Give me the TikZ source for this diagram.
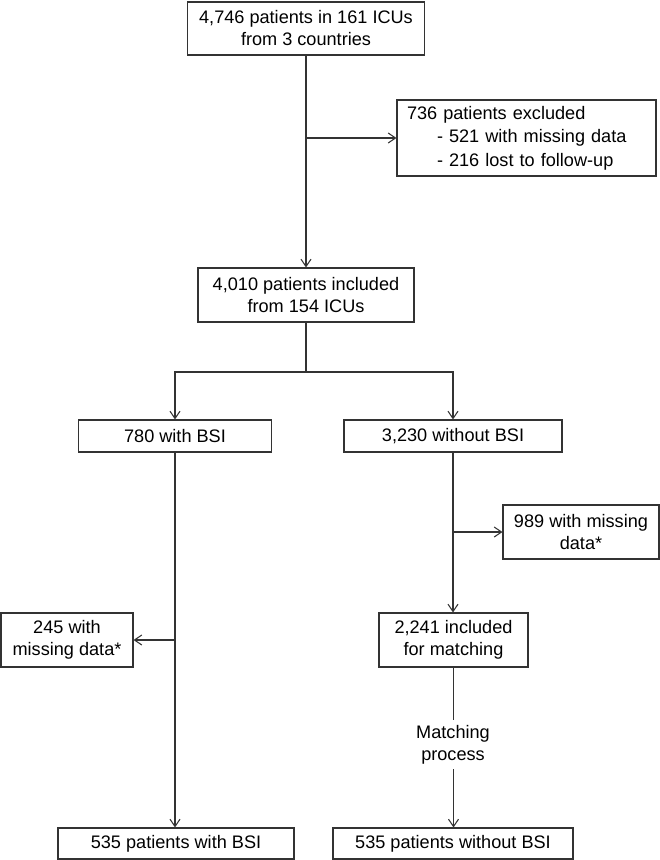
\documentclass[tikz,border=0pt]{standalone}
\usepackage{fontspec}
\setmainfont{Liberation Sans}
\usetikzlibrary{arrows.meta}
\definecolor{lncol}{RGB}{51,51,51}
\begin{document}
\begin{tikzpicture}[x=0.75pt,y=-0.75pt,
  box/.style={draw=lncol, line width=0.8pt, inner sep=0pt, align=center,
    font=\fontsize{13.6pt}{16.5pt}\selectfont, text=black},
  arr/.style={draw=lncol, line width=0.8pt, -{Straight Barb[length=5.5pt,width=7.5pt]}},
  plain/.style={draw=lncol, line width=0.8pt},
  lbl/.style={fill=white, align=center, inner xsep=2pt, inner ysep=4pt,
    font=\fontsize{13.6pt}{16.5pt}\selectfont, text=black}]
\useasboundingbox (0,0) rectangle (660,860);

\node[box, minimum width=177.75pt, minimum height=39.75pt] (top) at (306,28.5)
  {4,746 patients in 161 ICUs\\from 3 countries};
\node[box, align=left, text width=179.25pt, minimum width=194.25pt, minimum height=57pt,
  font=\fontsize{13.6pt}{17.5pt}\selectfont] (excl) at (526.5,138)
  {736 patients excluded\\\hspace*{22.5pt}- 521 with missing data\\\hspace*{22.5pt}- 216 lost to follow-up};
\node[box, minimum width=162pt, minimum height=40.5pt] (inc) at (306,295)
  {4,010 patients included\\from 154 ICUs};
\node[box, minimum width=144.75pt, minimum height=24pt] (bsi) at (175,436) {780 with BSI};
\node[box, minimum width=163.5pt, minimum height=24pt] (nobsi) at (453,436) {3,230 without BSI};
\node[box, minimum width=117pt, minimum height=40.5pt] (m989) at (581,532) {989 with missing\\data*};
\node[box, minimum width=111.75pt, minimum height=40.5pt] (incm) at (453.5,640) {2,241 included\\for matching};
\node[box, minimum width=99pt, minimum height=40.5pt] (m245) at (67,640) {245 with\\missing data*};
\node[box, minimum width=177pt, minimum height=23.25pt] (bl) at (176,843.5) {535 patients with BSI};
\node[box, minimum width=180pt, minimum height=23.25pt] (br) at (453,843.5) {535 patients without BSI};

% top to included, with exclusion branch
\draw[arr] (top.south) -- (top.south |- inc.north);
\draw[arr] (top.south |- excl.west) -- (excl.west);

% split
\draw[plain] (inc.south) -- (inc.south |- 0,372) coordinate (sp);
\draw[arr] (sp) -| (bsi.north);
\draw[arr] (sp) -| (nobsi.north);

% left branch
\draw[arr] (bsi.south) -- (bsi.south |- bl.north);
\draw[arr] (bsi.south |- m245.east) -- (m245.east);

% right branch
\draw[arr] (nobsi.south) -- (nobsi.south |- incm.north);
\draw[arr] (nobsi.south |- m989.west) -- (m989.west);
\draw[arr] (incm.south) -- (incm.south |- br.north);
\node[lbl] (match) at (453,744.5) {Matching\\process};
\end{tikzpicture}
\end{document}
